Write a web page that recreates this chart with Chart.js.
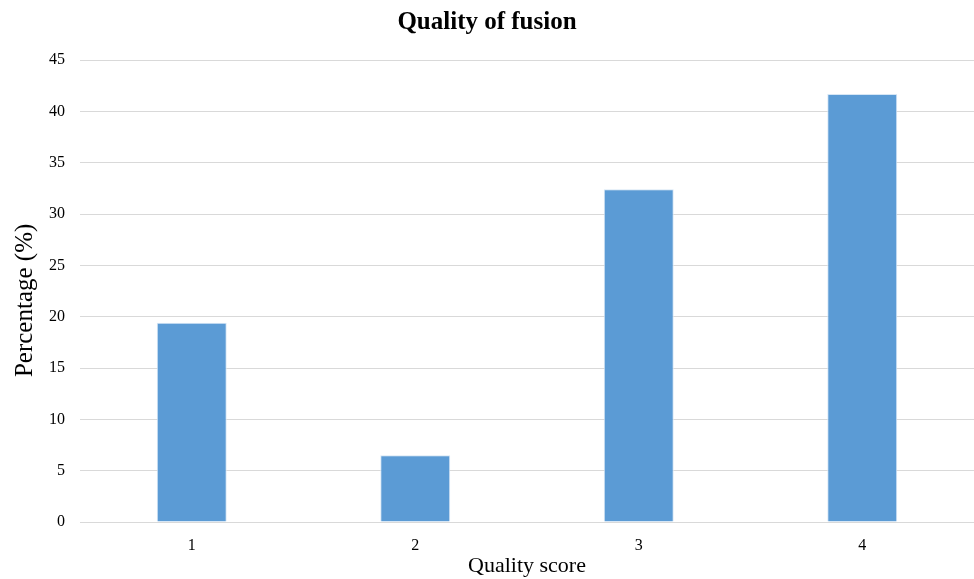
<!DOCTYPE html>
<html>
<head>
<meta charset="utf-8">
<script src="https://cdn.jsdelivr.net/npm/chart.js@4/dist/chart.umd.min.js"></script>
<style>
  html, body { margin: 0; padding: 0; background: #fff; }
</style>
</head>
<body>
<canvas id="qualityChart" width="974" height="579"></canvas>
<script>
// ---------------- Data ----------------
const scores = ["1", "2", "3", "4"];
const percentages = [19.4, 6.5, 32.4, 41.7];

const serif = "'Liberation Serif', 'Times New Roman', serif";

const ctx = document.getElementById('qualityChart').getContext('2d');
new Chart(ctx, {
  type: 'bar',
  data: {
    labels: scores,
    datasets: [{
      label: 'Percentage (%)',
      data: percentages,
      backgroundColor: '#5b9bd5',
      borderColor: '#d6e6f5',
      borderWidth: 1,
      categoryPercentage: 1,
      barPercentage: 0.313
    }]
  },
  options: {
    responsive: false,
    animation: false,
    layout: { padding: { left: 0, right: 0, top: 0, bottom: 0 } },
    plugins: {
      legend: { display: false },
      tooltip: { enabled: false },
      title: {
        display: true,
        text: 'Quality of fusion',
        color: '#000',
        font: { family: serif, size: 25, weight: 'bold' },
        padding: { top: 8, bottom: 22 }
      }
    },
    scales: {
      x: {
        grid: { display: false },
        border: { display: true, color: '#d9d9d9', width: 1 },
        ticks: { color: '#000', font: { family: serif, size: 16 }, padding: 6 },
        title: {
          display: true,
          text: 'Quality score',
          color: '#000',
          font: { family: serif, size: 22 },
          padding: { top: 0, bottom: 0 }
        },
        afterFit: scale => { scale.height = 57; }
      },
      y: {
        min: 0,
        max: 45,
        ticks: { stepSize: 5, color: '#000', font: { family: serif, size: 16 }, padding: 15 },
        grid: { color: '#d9d9d9', lineWidth: 1, drawTicks: false },
        border: { display: false },
        title: {
          display: true,
          text: 'Percentage (%)   ',
          color: '#000',
          font: { family: serif, size: 25 },
          padding: { top: 10, bottom: 0 }
        },
        afterFit: scale => { scale.width = 80; }
      }
    }
  }
});
</script>
</body>
</html>
